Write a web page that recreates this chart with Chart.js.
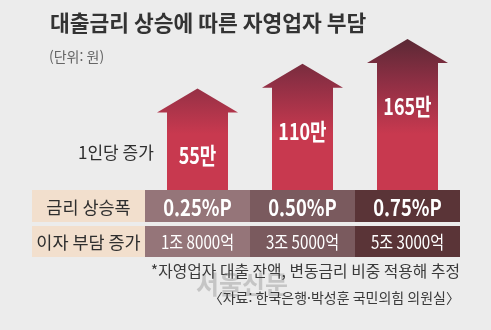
<!DOCTYPE html>
<html lang="ko">
<head>
<meta charset="utf-8">
<title>대출금리 상승에 따른 자영업자 부담</title>
<script src="https://cdn.jsdelivr.net/npm/chart.js@4/dist/chart.umd.min.js"></script>
<style>
    html, body { margin: 0; padding: 0; background: #ececec; }
    #wrap { position: relative; width: 491px; height: 330px; }
</style>
</head>
<body>
<div id="wrap"><canvas id="burden-chart"></canvas></div>
<script>
// rate increase steps (categories), per-person burden increase (만원), total extra interest
const rateSteps = ['0.25%P', '0.50%P', '0.75%P'];
const perPersonIncrease = [55, 110, 165];
const perPersonLabels = ['55만', '110만', '165만'];
const totalInterest = ['1조 8000억', '3조 5000억', '5조 3000억'];
const cellColors = ['#957579', '#7a5a5e', '#5a3437'];

const KR = '"Noto Sans CJK KR", "Noto Sans", sans-serif';

// centred text squeezed horizontally (condensed look)
function narrowText(ctx, text, x, y, font, sx) {
    ctx.save();
    ctx.translate(x, y);
    ctx.scale(sx, 1);
    ctx.font = font;
    ctx.textAlign = 'center';
    ctx.textBaseline = 'middle';
    ctx.fillText(text, 0, 0);
    ctx.restore();
}

// Draws each bar as an up arrow plus the table under the chart
const arrowPlugin = {
    id: 'arrowPlugin',
    afterDatasetsDraw(chart) {
        const ctx = chart.ctx;
        const area = chart.chartArea;
        const xScale = chart.scales.x;
        const meta = chart.getDatasetMeta(0);

        // one gradient across all arrows: dark at the top, red lower down
        const grad = ctx.createLinearGradient(0, area.top, 0, area.top + 95);
        grad.addColorStop(0, '#5b2935');
        grad.addColorStop(0.45, '#8e2f44');
        grad.addColorStop(1, '#c8394f');

        meta.data.forEach(function(bar, i) {
            const half = bar.width / 2;
            const headHalf = half + 10;
            const headH = 24;
            const bottom = area.bottom;
            ctx.save();
            ctx.beginPath();
            ctx.moveTo(bar.x, bar.y);
            ctx.lineTo(bar.x + headHalf, bar.y + headH);
            ctx.lineTo(bar.x + half, bar.y + headH);
            ctx.lineTo(bar.x + half, bottom);
            ctx.lineTo(bar.x - half, bottom);
            ctx.lineTo(bar.x - half, bar.y + headH);
            ctx.lineTo(bar.x - headHalf, bar.y + headH);
            ctx.closePath();
            ctx.fillStyle = grad;
            ctx.fill();

            ctx.fillStyle = '#ffffff';
            narrowText(ctx, perPersonLabels[i], bar.x, bar.y + 67, 'bold 23px ' + KR, 0.78);
            ctx.restore();
        });

        // table rows
        const rows = [
            { top: area.bottom, h: 32, label: '금리 상승폭', cells: rateSteps, font: 'bold 23px ' + KR, sx: 0.8 },
            { top: area.bottom + 36, h: 31, label: '이자 부담 증가', cells: totalInterest, font: '18px ' + KR, sx: 0.84 }
        ];
        const step = (xScale.right - xScale.left) / rateSteps.length;
        ctx.save();
        rows.forEach(function(row) {
            ctx.fillStyle = '#f2dfcd';
            ctx.fillRect(32, row.top, xScale.left - 32, row.h);
            ctx.fillStyle = '#2e2e2e';
            ctx.font = '17.5px ' + KR;
            ctx.textAlign = 'center';
            ctx.textBaseline = 'middle';
            ctx.fillText(row.label, (32 + xScale.left) / 2, row.top + row.h / 2 + 1);
            row.cells.forEach(function(txt, i) {
                const x0 = xScale.left + step * i;
                ctx.fillStyle = cellColors[i];
                ctx.fillRect(x0, row.top, step, row.h);
                ctx.fillStyle = '#ffffff';
                narrowText(ctx, txt, x0 + step / 2, row.top + row.h / 2 + 1, row.font, row.sx);
            });
        });
        ctx.restore();
    },
    afterDraw(chart) {
        const ctx = chart.ctx;
        ctx.save();
        ctx.textBaseline = 'middle';

        ctx.fillStyle = '#333333';
        ctx.font = 'bold 21.5px ' + KR;
        ctx.textAlign = 'left';
        ctx.fillText('대출금리 상승에 따른 자영업자 부담', 50, 23);

        ctx.fillStyle = '#666666';
        ctx.font = '14px ' + KR;
        ctx.fillText('(단위: 원)', 49, 57);

        ctx.fillStyle = '#2e2e2e';
        ctx.font = '17px ' + KR;
        ctx.fillText('1인당 증가', 78, 153);

        // source watermark
        ctx.fillStyle = 'rgba(140, 140, 140, 0.4)';
        ctx.font = 'bold 25px ' + KR;
        ctx.fillText('서울신문', 196, 284);

        ctx.fillStyle = '#3a3a3a';
        ctx.textAlign = 'right';
        ctx.font = '15.8px ' + KR;
        ctx.fillText('*자영업자 대출 잔액, 변동금리 비중 적용해 추정', 460, 271);
        ctx.font = '14px ' + KR;
        ctx.fillText('〈자료: 한국은행·박성훈 국민의힘 의원실〉', 460, 298);
        ctx.restore();
    }
};

new Chart(document.getElementById('burden-chart'), {
    type: 'bar',
    data: {
        labels: rateSteps,
        datasets: [{
            label: '1인당 증가',
            data: perPersonIncrease,
            backgroundColor: 'rgba(0,0,0,0)',
            barPercentage: 61 / 105,
            categoryPercentage: 1
        }]
    },
    options: {
        responsive: true,
        maintainAspectRatio: false,
        animation: false,
        layout: { padding: { left: 145, right: 31, top: 39, bottom: 140 } },
        scales: {
            x: { display: false },
            y: { display: false, min: -170, max: 165 }
        },
        plugins: {
            legend: { display: false },
            tooltip: { enabled: false }
        }
    },
    plugins: [arrowPlugin]
});
</script>
</body>
</html>
